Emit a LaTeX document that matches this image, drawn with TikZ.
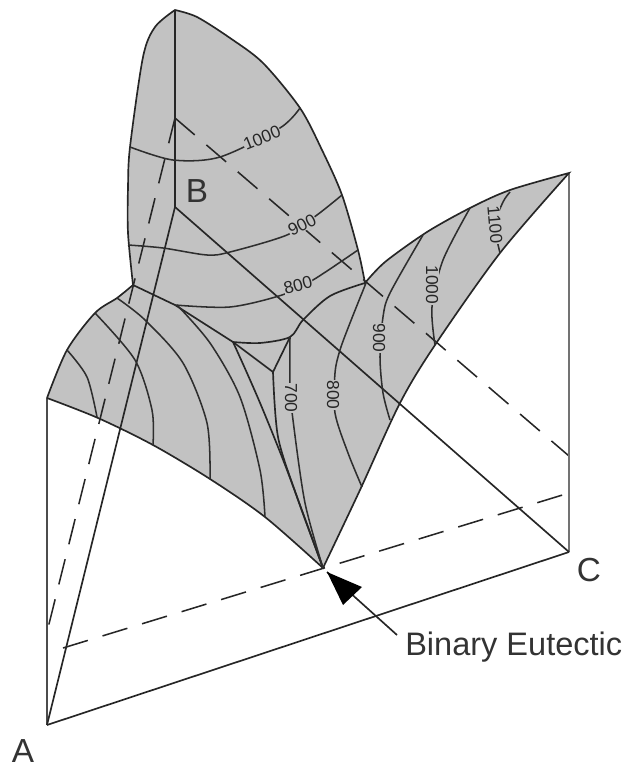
\documentclass[tikz,border=0pt]{standalone}
\usepackage{fontspec}
\setmainfont{Liberation Sans}
\definecolor{surf}{gray}{0.76}
\tikzset{
  x=0.75pt, y=-0.75pt,
  contour/.style={line width=1.15pt, draw=black!82},
  edgeline/.style={line width=1.25pt, draw=black!85},
  hidden/.style={line width=1.15pt, draw=black!85, dash pattern=on 19.5pt off 11.5pt},
  post/.style={line width=2.1pt, draw=black!70},
  templabel/.style={font=\fontsize{13}{14}\selectfont, text=black!85, fill=surf, inner sep=0.3pt},
  corner/.style={font=\fontsize{25}{28}\selectfont, text=black!80, inner sep=0pt},
}
\def\liquidus{plot[smooth] coordinates {(47,398) (67,350) (95,313) (117,298) (133,285)}
  -- plot[smooth] coordinates {(133,285) (128,233) (128,187) (130,147) (143,57) (155,27) (175,10)}
  -- plot[smooth] coordinates {(175,10) (197,17) (230,38) (263,63) (300,108) (322,150) (342,195) (358,250) (365,283)}
  -- plot[smooth] coordinates {(365,283) (385,262) (427,232) (470,208) (510,190) (569,173)}
  -- plot[smooth] coordinates {(569,173) (500,253) (435,345) (400,403) (360,490) (323,568)}
  -- plot[smooth] coordinates {(323,568) (265,517) (210,479) (153,445) (98,418) (47,398)}}
\begin{document}
\begin{tikzpicture}
  \useasboundingbox (0,0) rectangle (625,766);
  % corners of the prism
  \coordinate (A) at (47,725);
  \coordinate (At) at (47,398);
  \coordinate (B) at (175,207);
  \coordinate (Bt) at (175,10);
  \coordinate (Bd) at (175,118);
  \coordinate (C) at (569,552);
  \coordinate (Ct) at (569,173);
  \coordinate (E) at (323,568);
  \coordinate (Ad) at (47,632);
  \coordinate (Cd) at (569,456);
  \coordinate (Ae) at (63,648);
  \coordinate (Ce) at (569,493);
  \coordinate (V1) at (133,285);
  \coordinate (V2) at (365,283);
  \coordinate (T1) at (233,342);
  \coordinate (T2) at (290,337);
  \coordinate (T3) at (273,372);
  % liquidus surface
  \fill[surf] \liquidus -- cycle;
  % hidden edges
  \draw[hidden] (Bd) -- (Ad);
  \draw[hidden] (Bd) -- (Cd);
  \draw[hidden] (Ae) -- (Ce);
  % prism
  \draw[post] (At) -- (A);
  \draw[post, draw=black!55] (Ct) -- (C);
  \draw[edgeline] (A) -- (C);
  \draw[edgeline] (Bt) -- (B) -- (A);
  \draw[edgeline] (B) -- (C);
  % outline of the surface
  \draw[edgeline] \liquidus;
  % valleys
  \draw[edgeline] (V1) -- (175,305) -- (T1);
  \draw[edgeline] plot[smooth] coordinates {(T1) (260,343) (T2) (303,320) (330,296) (V2)};
  \draw[edgeline] (T1) -- (T3) -- (T2);
  \draw[edgeline] plot[smooth] coordinates {(T1) (247,373) (263,410) (287,470) (E)};
  \draw[edgeline] plot[smooth] coordinates {(T3) (278,437) (297,497) (E)};
  % isotherms, A side
  \draw[contour] plot[smooth] coordinates {(67,350) (87,377) (97,417)};
  \draw[contour] plot[smooth] coordinates {(95,313) (135,360) (152,410) (153,445)};
  \draw[contour] plot[smooth] coordinates {(117,298) (145,320) (183,363) (207,423) (210,479)};
  \draw[contour] plot[smooth] coordinates {(177,305) (210,343) (240,397) (260,470) (265,517)};
  \draw[contour] plot[smooth] coordinates {(T2) (290,385) (293,420) (305,503) (E)};
  % isotherms, B side
  \draw[contour] plot[smooth] coordinates {(130,147) (173,160) (220,157) (280,128) (300,108)};
  \draw[contour] plot[smooth] coordinates {(128,245) (163,248) (207,255) (230,252) (287,235) (317,215) (342,195)};
  \draw[contour] plot[smooth] coordinates {(175,305) (230,307) (282,295) (313,280) (358,250)};
  % isotherms, C side
  \draw[contour] plot[smooth] coordinates {(366,283) (350,323) (340,350) (335,373) (335,413) (348,453) (362,487)};
  \draw[contour] plot[smooth] coordinates {(423,235) (390,293) (383,317) (380,357) (383,393) (390,420)};
  \draw[contour] plot[smooth] coordinates {(470,208) (443,260) (432,307) (435,345)};
  \draw[contour] plot[smooth] coordinates {(510,192) (503,202) (495,225) (500,253)};
  % labels of the isotherms
  \node[templabel, rotate=22] (t1000) at (262,138) {1000};
  \node[templabel, rotate=27] (t900) at (302,225) {900};
  \node[templabel, rotate=15] (t800) at (298,285) {800};
  \node[templabel, rotate=-90] (t700) at (291,398) {700};
  \node[templabel, rotate=-90] (t800c) at (333,395) {800};
  \node[templabel, rotate=-90] (t900c) at (379,338) {900};
  \node[templabel, rotate=-90] (t1000c) at (432,285) {1000};
  \node[templabel, rotate=-85] (t1100) at (495,225) {1100};
  % letters
  \node[corner, anchor=base] (lA) at (23,762) {A};
  \node[corner] (lB) at (197,191) {B};
  \node[corner] (lC) at (589,570) {C};
  \node[corner, font=\fontsize{24.4}{28}\selectfont, anchor=base west] (eut) at (405,655) {Binary Eutectic};
  % arrow to the eutectic
  \coordinate (tip) at (327,572);
  \coordinate (tail) at (397,635);
  \draw[edgeline] (tail) -- (tip);
  \fill[black] (tip) -- (362,587) -- (343,605) -- cycle;
\end{tikzpicture}
\end{document}
